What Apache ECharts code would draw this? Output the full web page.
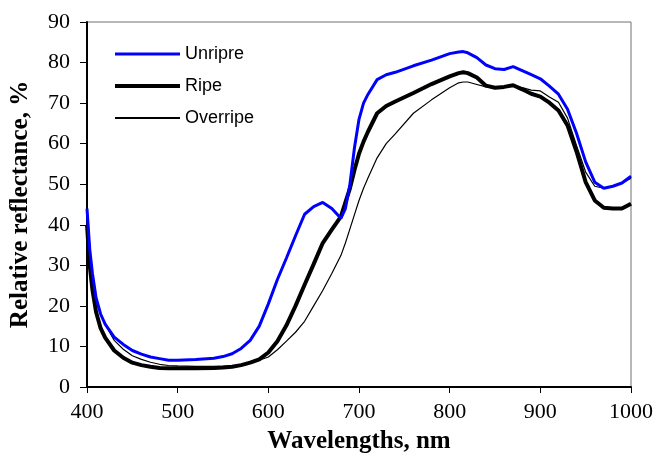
<!DOCTYPE html>
<html>
<head>
<meta charset="utf-8">
<script src="https://cdn.jsdelivr.net/npm/echarts@6/dist/echarts.min.js"></script>
<style>
  html, body { margin: 0; padding: 0; background: #fff; }
  #container { width: 657px; height: 459px; }
</style>
</head>
<body>
<div id="container"></div>
<script>
// wavelengths (nm) shared by all three spectra
const wavelengths = [400, 403, 406, 410, 415, 420, 430, 440, 450, 460, 470, 480, 490, 500, 520, 540, 550, 560, 570, 580,
  590, 600, 610, 620, 630, 640, 650, 660, 670, 680, 685, 690, 695, 700, 705, 710, 720, 730, 740, 760,
  780, 800, 810, 815, 820, 830, 840, 850, 860, 870, 880, 890, 900, 910, 920, 930, 940, 950, 960, 970,
  980, 990, 1000]

const unripe = [44, 34, 28, 22, 18, 15.5, 12.3, 10.5, 9, 8.1, 7.4, 7, 6.6, 6.6, 6.8, 7.1, 7.5, 8.2, 9.5, 11.5,
  15, 20.5, 26.5, 31.8, 37.3, 42.6, 44.5, 45.5, 44, 41.6, 44, 50, 59, 66, 70, 72.2, 75.8, 77, 77.6, 79.2,
  80.6, 82.2, 82.6, 82.7, 82.4, 81.2, 79.4, 78.5, 78.3, 79, 78, 77, 76, 74.2, 72.2, 68.5, 62.5, 55.5, 50.5, 49,
  49.5, 50.3, 52]

const ripe = [40, 30, 24, 18.5, 14.5, 12.2, 9, 7.2, 6, 5.4, 5, 4.7, 4.6, 4.6, 4.6, 4.7, 4.8, 5, 5.4, 6,
  6.8, 8.5, 11.3, 15.2, 20, 25.2, 30.3, 35.5, 38.8, 42, 45.5, 49, 53.5, 57.5, 60.5, 63, 67.5, 69.3, 70.4, 72.5,
  74.7, 76.6, 77.4, 77.6, 77.4, 76.3, 74.3, 73.8, 74, 74.4, 73.4, 72.3, 71.6, 70.1, 68.2, 64.5, 58, 50.5, 46, 44.2,
  44, 44, 45.2]

const overripe = [36, 32, 27, 21, 18, 15.5, 11.5, 9.3, 7.7, 6.8, 6.1, 5.6, 5.3, 5.2, 5.1, 5.1, 5.1, 5.2, 5.4, 5.9,
  6.6, 7.4, 9.2, 11.3, 13.5, 16.2, 20, 23.8, 28, 32.4, 35.5, 39, 42.5, 46, 49, 51.6, 56.5, 60, 62.4, 67.5,
  70.8, 73.8, 75, 75.2, 75.2, 74.6, 74, 74, 74.1, 74.5, 73.8, 73.2, 73, 71.5, 70.2, 66.3, 59.5, 53, 49.5, 49,
  49.5, 50.2, 51.5]

const pairs = (ys) => wavelengths.map((w, i) => [w, ys[i]])

const serif = '"Liberation Serif", "Times New Roman", serif'
const sans = '"Liberation Sans", Arial, sans-serif'

// one legend per series so each key line can have its own thickness
const legendItem = (name, top, h) => ({
  orient: 'vertical',
  left: 110,
  top: top,
  icon: 'rect',
  itemWidth: 65,
  itemHeight: h,
  itemGap: 0,
  data: [name],
  selectedMode: false,
  textStyle: { fontFamily: sans, fontSize: 18, color: '#000' }
})

let mychart = echarts.init(document.getElementById('container'))
mychart.setOption({
  animation: false,
  grid: {
    left: 87,
    right: 26,
    top: 22,
    bottom: 69,
    show: true,
    borderColor: '#707070',
    borderWidth: 1
  },
  legend: [
    legendItem('Unripre', 40, 3),
    legendItem('Ripe', 72, 4),
    legendItem('Overripe', 104, 2)
  ],
  xAxis: {
    type: 'value',
    min: 400,
    max: 1000,
    interval: 100,
    name: 'Wavelengths, nm',
    nameLocation: 'middle',
    nameGap: 42,
    nameTextStyle: { fontFamily: serif, fontSize: 25, fontWeight: 'bold', color: '#000' },
    axisLine: { show: true, lineStyle: { color: '#000', width: 2 } },
    axisTick: { show: true, inside: false, length: 6, lineStyle: { color: '#000' } },
    axisLabel: { fontFamily: serif, fontSize: 22, color: '#000', margin: 14, formatter: (v) => String(v) },
    splitLine: { show: false }
  },
  yAxis: {
    type: 'value',
    min: 0,
    max: 90,
    interval: 10,
    name: 'Relative reflectance, %',
    nameLocation: 'middle',
    nameGap: 54,
    nameTextStyle: { fontFamily: serif, fontSize: 25, fontWeight: 'bold', color: '#000' },
    axisLine: { show: true, lineStyle: { color: '#000', width: 2 } },
    axisTick: { show: true, inside: false, length: 7, lineStyle: { color: '#000' } },
    axisLabel: { fontFamily: serif, fontSize: 22, color: '#000', margin: 17 },
    splitLine: { show: false }
  },
  series: [
    {
      name: 'Overripe',
      type: 'line',
      data: pairs(overripe),
      symbol: 'none',
      z: 2,
      lineStyle: { color: '#000', width: 1.2 },
      itemStyle: { color: '#000' }
    },
    {
      name: 'Ripe',
      type: 'line',
      data: pairs(ripe),
      symbol: 'none',
      z: 3,
      lineStyle: { color: '#000', width: 4 },
      itemStyle: { color: '#000' }
    },
    {
      name: 'Unripre',
      type: 'line',
      data: pairs(unripe),
      symbol: 'none',
      z: 4,
      lineStyle: { color: '#0000ff', width: 3 },
      itemStyle: { color: '#0000ff' }
    }
  ]
})

window.addEventListener('resize', () => { mychart.resize() })
</script>
</body>
</html>
